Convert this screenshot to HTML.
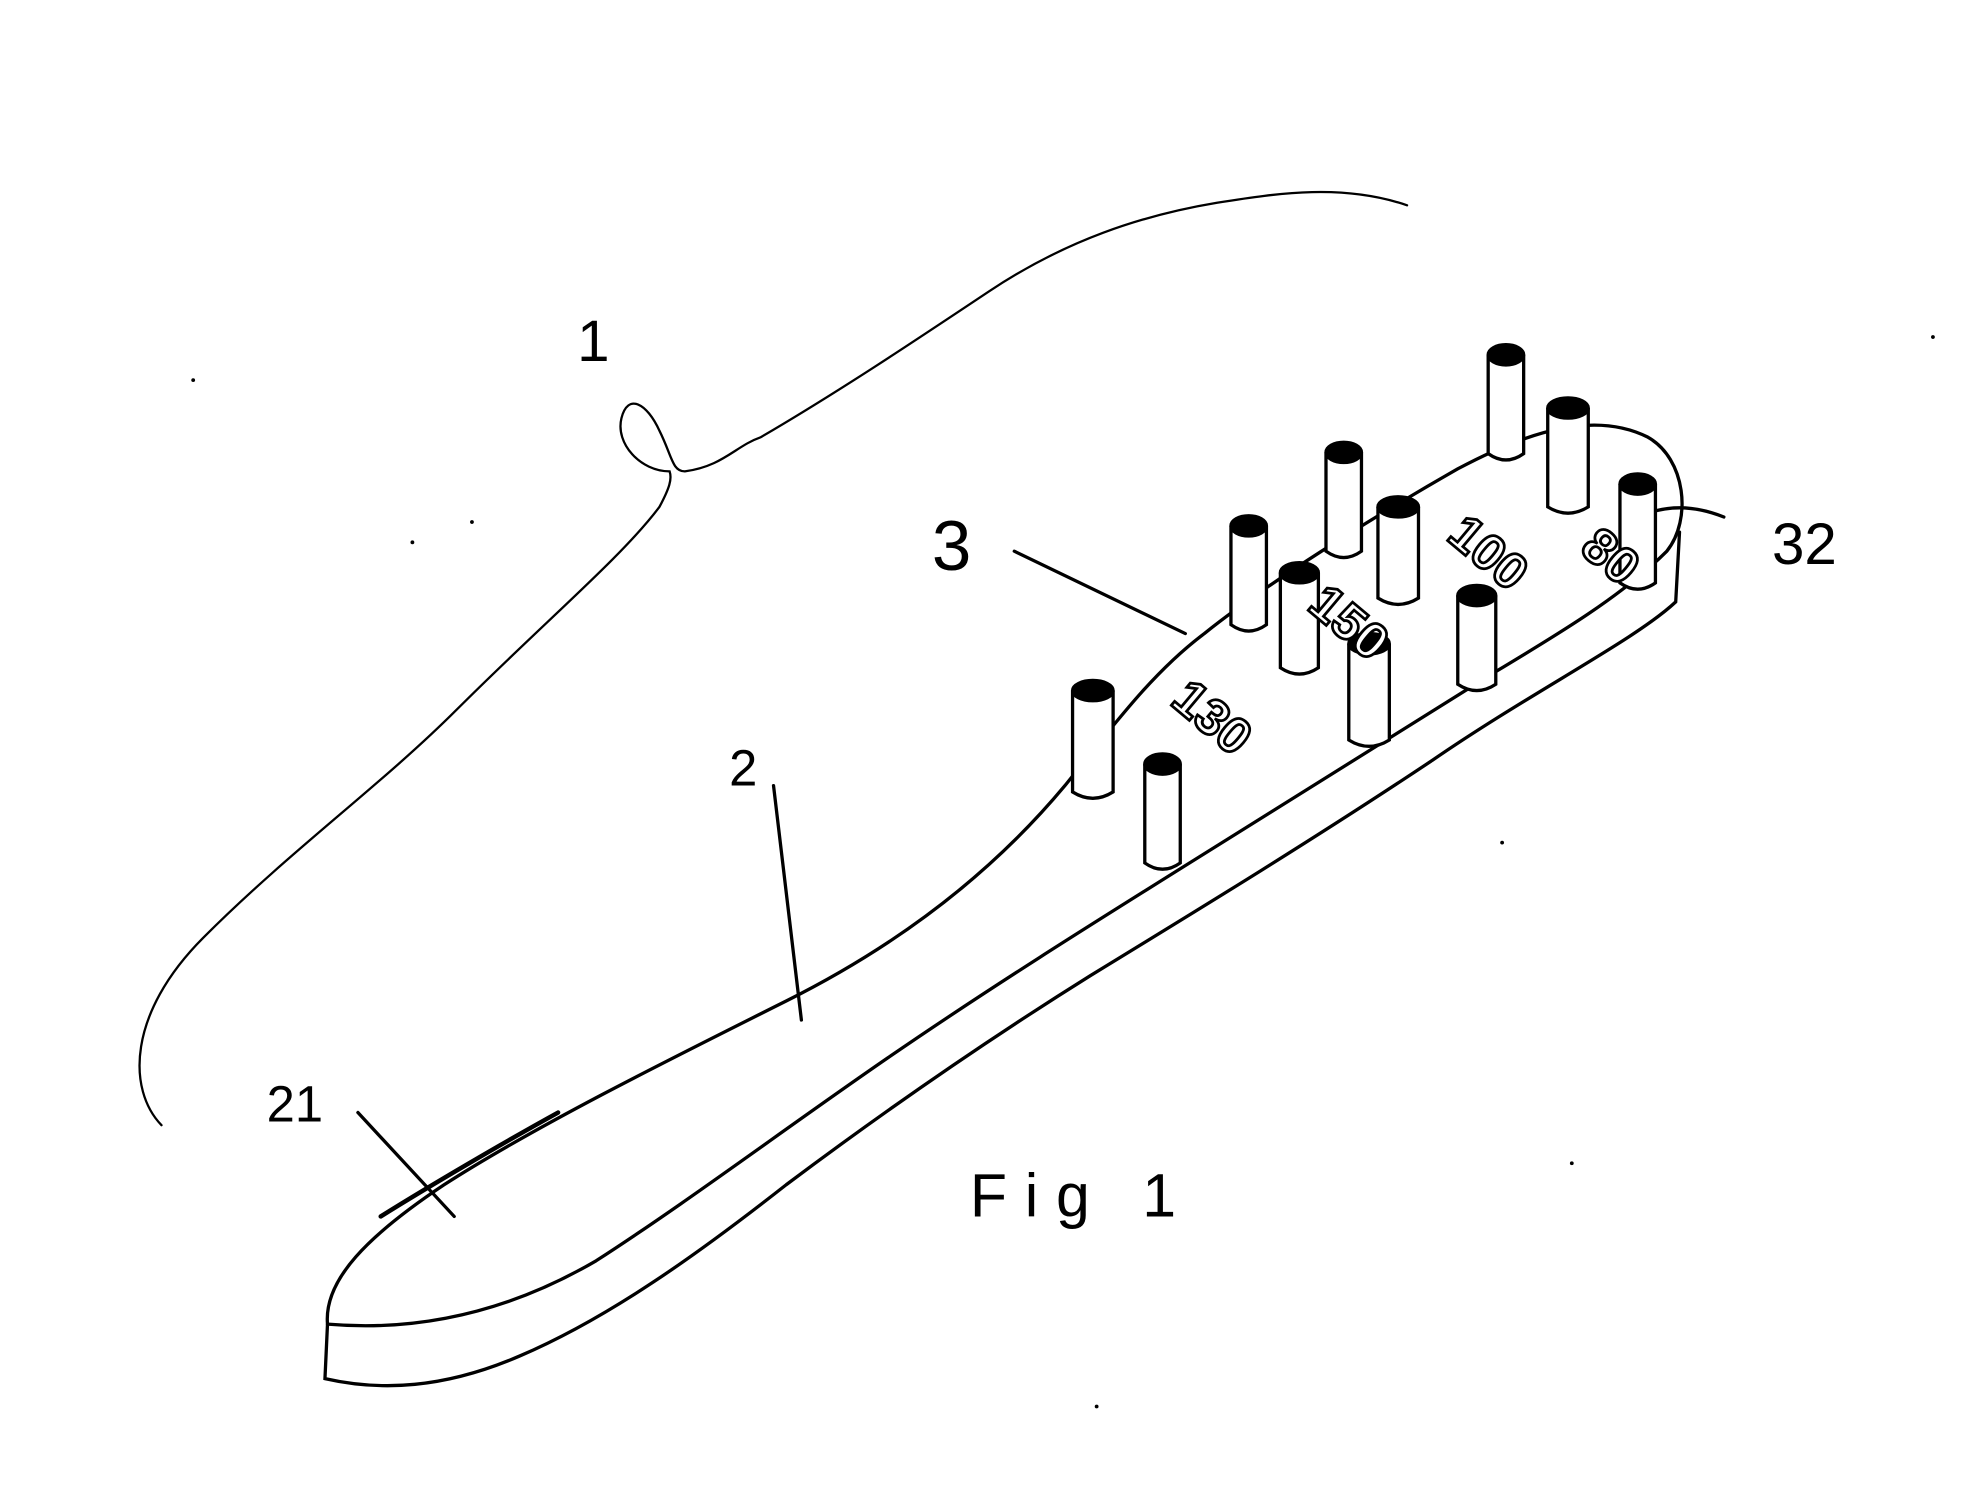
<!DOCTYPE html>
<html><head><meta charset="utf-8"><style>html,body{margin:0;padding:0;background:#fff}svg{display:block}</style></head>
<body>
<svg width="1988" height="1499" viewBox="0 0 1568 1183" xmlns="http://www.w3.org/2000/svg">
<rect width="1568" height="1183" fill="#fff"/>
<g fill="none" stroke="#000" stroke-width="1.8" stroke-linecap="round">
<path d="M127 888 C100 860 100 800 160 740 C230 670 300 620 360 560 C430 490 490 440 520 400 C528 385 530 378 528 372 C505 372 485 350 490 330 C495 310 510 318 520 340 C530 360 530 372 540 372 C570 368 580 352 600 345 C660 310 720 270 780 230 C840 190 900 170 960 160 C1010 152 1060 145 1110 162"/>
</g>
<g fill="none" stroke="#000" stroke-width="2.6" stroke-linecap="round">
<path d="M258 1045 C255 1010 290 975 350 935 C420 890 520 840 620 790 C720 740 790 680 840 620 C880 570 910 530 950 500 C1000 460 1080 410 1150 370 C1210 338 1260 325 1300 345 C1330 362 1335 410 1315 435 C1280 470 1230 500 1180 530 C1100 580 1020 630 940 680 C860 730 780 780 700 835 C620 890 540 950 470 995 C410 1030 340 1052 258 1045"/>
<path d="M258 1045 L256 1088 C300 1098 350 1096 410 1070 C480 1040 550 990 620 935 C700 875 780 820 860 770 C950 715 1040 660 1130 600 C1210 545 1290 505 1322 475 L1325 420"/>
<path d="M300 960 C340 935 400 900 440 878" stroke-width="3.5"/>
<path d="M800 435 L935 500"/>
<path d="M610 620 L632 805"/>
<path d="M282 878 L358 960"/>
<path d="M1360 408 C1340 400 1320 398 1300 405"/>
</g>
<g stroke="#000" stroke-width="2.6" fill="#fff">
<g transform="translate(1188,280)"><path d="M-14 0 L-14 78 Q0 88 14 78 L14 0"/><ellipse cx="0" cy="0" rx="14" ry="8" fill="#000"/></g>
<g transform="translate(1237,322)"><path d="M-16 0 L-16 78 Q0 88 16 78 L16 0"/><ellipse cx="0" cy="0" rx="16" ry="8" fill="#000"/></g>
<g transform="translate(1292,382)"><path d="M-14 0 L-14 78 Q0 88 14 78 L14 0"/><ellipse cx="0" cy="0" rx="14" ry="8" fill="#000"/></g>
<g transform="translate(1060,357)"><path d="M-14 0 L-14 78 Q0 88 14 78 L14 0"/><ellipse cx="0" cy="0" rx="14" ry="8" fill="#000"/></g>
<g transform="translate(1103,400)"><path d="M-16 0 L-16 72 Q0 82 16 72 L16 0"/><ellipse cx="0" cy="0" rx="16" ry="8" fill="#000"/></g>
<g transform="translate(985,415)"><path d="M-14 0 L-14 78 Q0 88 14 78 L14 0"/><ellipse cx="0" cy="0" rx="14" ry="8" fill="#000"/></g>
<g transform="translate(1025,452)"><path d="M-15 0 L-15 75 Q0 85 15 75 L15 0"/><ellipse cx="0" cy="0" rx="15" ry="8" fill="#000"/></g>
<g transform="translate(1165,470)"><path d="M-15 0 L-15 70 Q0 80 15 70 L15 0"/><ellipse cx="0" cy="0" rx="15" ry="8" fill="#000"/></g>
<g transform="translate(1080,508)"><path d="M-16 0 L-16 76 Q0 86 16 76 L16 0"/><ellipse cx="0" cy="0" rx="16" ry="8" fill="#000"/></g>
<g transform="translate(862,545)"><path d="M-16 0 L-16 80 Q0 90 16 80 L16 0"/><ellipse cx="0" cy="0" rx="16" ry="8" fill="#000"/></g>
<g transform="translate(917,603)"><path d="M-14 0 L-14 78 Q0 88 14 78 L14 0"/><ellipse cx="0" cy="0" rx="14" ry="8" fill="#000"/></g>
</g>
<g font-family="Liberation Sans, sans-serif" fill="#000">
<text x="455" y="285" font-size="46">1</text>
<text x="575" y="620" font-size="40">2</text>
<text x="210" y="885" font-size="40">21</text>
<text x="735" y="450" font-size="56">3</text>
<text x="1398" y="445" font-size="46">32</text>
<text x="765" y="960" font-size="48" letter-spacing="14">Fig 1</text>
<g fill="#fff" stroke="#000" stroke-width="2.2" font-size="40" font-weight="bold">
<text transform="translate(1140,425) rotate(40)">100</text>
<text transform="translate(1245,435) rotate(40)">80</text>
<text transform="translate(1030,480) rotate(40)">150</text>
<text transform="translate(922,555) rotate(40)">130</text>
</g>
</g>
<g fill="#000"><circle cx="152" cy="300" r="1.5"/><circle cx="372" cy="412" r="1.5"/><circle cx="325" cy="428" r="1.5"/><circle cx="1240" cy="918" r="1.5"/><circle cx="865" cy="1110" r="1.5"/><circle cx="1185" cy="665" r="1.5"/><circle cx="1525" cy="266" r="1.5"/></g>
</svg>
</body></html>
